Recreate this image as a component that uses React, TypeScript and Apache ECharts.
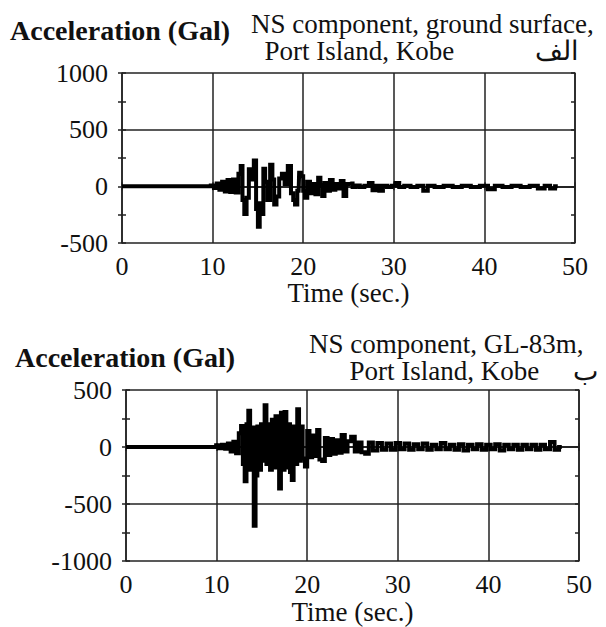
import React, { useEffect, useRef } from "react";
import * as echarts from "echarts";

// ---- Data ----
const xTicks = [0, 10, 20, 30, 40, 50];
const topYTicks = [1000, 500, 0, -500];
const bottomYTicks = [500, 0, -500, -1000];

// NS component, ground surface, Port Island, Kobe: time (s) / acceleration (Gal)
const surfaceTime = [
  0, 9.6, 10, 10.3, 10.6, 10.9, 11.2, 11.5, 11.8, 12.1, 12.4, 12.7, 13.0, 13.2, 13.4, 13.6, 13.9, 14.1, 14.4, 14.7,
  14.9, 15.1, 15.3, 15.5, 15.7, 15.9, 16.2, 16.5, 16.7, 16.9, 17.2, 17.5, 17.8, 18.1, 18.5, 18.8, 19.0, 19.2, 19.5,
  19.6, 19.9, 20.1, 20.3, 20.6, 20.9, 21.2, 21.5, 21.8, 22.0, 22.2, 22.5, 22.8, 23.1, 23.4, 23.7, 24.0, 24.3, 24.6,
  24.9, 25.3, 25.6, 26.0, 26.5, 27.0, 27.5, 27.8, 28.2, 28.6, 29.0, 29.5, 30.0, 30.4, 30.8, 31.5, 32.2, 33.0, 33.5,
  34.0, 35, 36, 37, 38, 39, 40, 40.8, 41.5, 42.5, 43.5, 44.5, 45.5, 46.3, 47, 47.5, 48.1,
];
const surfaceAcc = [
  0, 0, 8, -15, 25, -30, 40, -45, 55, -50, 60, -55, 110, 180, -120, -245, -100, 150, 60, 229,
  -200, -356, -150, -245, 156, 40, -120, 190, 60, -160, -90, 70, 110, 20, 180, -60, -120, -160, -40,
  120, 90, -40, -100, 40, -60, 20, -70, 76, 10, -85, 30, -40, 56, -30, 20, -20, 47, -85,
  20, 26, -5, 8, -5, 5, 30, -35, 5, -40, 5, -5, 5, 30, -5, 5, -5, 5, -40,
  5, -5, 5, -5, 5, -5, 5, -25, 5, -5, 5, -5, 5, -20, 5, -20, 0,
];

// NS component, GL-83m, Port Island, Kobe
const deepTime = [
  0, 9.8, 10.1, 10.4, 10.8, 11.1, 11.4, 11.7, 12.0, 12.3, 12.6, 12.8, 13.0, 13.2, 13.4, 13.6, 13.8, 14.0, 14.2, 14.4,
  14.6, 14.8, 15.0, 15.2, 15.4, 15.6, 15.8, 16.0, 16.2, 16.4, 16.6, 16.8, 17.0, 17.2, 17.4, 17.6, 17.8, 18.0, 18.2,
  18.4, 18.6, 18.8, 19.0, 19.2, 19.4, 19.6, 19.9, 20.1, 20.4, 20.7, 21.0, 21.2, 21.5, 21.8, 22.1, 22.4, 22.7, 23.0,
  23.3, 23.6, 24.0, 24.3, 24.6, 25.1, 25.4, 25.8, 26.2, 26.6, 27.0, 27.5, 28.0, 28.5, 29.0, 29.5, 30.0, 30.5, 31.0,
  31.5, 32, 32.5, 33, 33.5, 34, 34.5, 35, 35.5, 36, 36.5, 37, 37.5, 38, 38.5, 39, 39.5, 40, 40.5, 41, 41.5, 42,
  42.5, 43, 43.5, 44, 44.5, 45, 45.5, 46, 46.5, 47.1, 47.5, 48.1,
];
const deepAcc = [
  0, 0, 15, -10, 20, -15, 30, -40, 45, -55, 120, 185, -150, -300, 200, 317, -200, 170, -690, -250,
  180, -200, 200, -120, 367, -150, 200, -200, 240, -180, 270, -150, -365, 300, -200, 306, -180, 200, -220,
  -290, 180, -150, 332, -120, 180, -100, -170, 140, -90, 100, -80, 150, -110, -123, 80, -70, 70, -60,
  60, -50, 105, -40, 50, 90, -40, 40, -45, -60, 40, -30, 35, -25, 30, -25, 35, -20, 30,
  -25, 25, -20, 30, -25, 20, -20, 35, -20, 20, -25, 25, -30, 20, -20, 25, -25, 20, -20, 25, -30, 20,
  -20, 20, -25, 20, -20, 20, -25, 20, -20, 44, -25, 0,
];

const topTitle = ["NS component, ground surface,", "  Port Island, Kobe            الف"];
const bottomTitle = ["NS component, GL-83m,", "      Port Island, Kobe     ب"];
const yAxisTitle = "Acceleration (Gal)";
const xAxisTitle = "Time (sec.)";

const SERIF = "Liberation Serif";
const INK = "#111";
const LINE = "#222";

function pairs(t: number[], v: number[]) {
  return t.map((x, i) => [x, v[i]]);
}

export default function App() {
  const ref = useRef<HTMLDivElement>(null);

  useEffect(() => {
    if (!ref.current) return;
    const chart = echarts.init(ref.current, null, { renderer: "svg" });

    const grids = [
      { left: 122, top: 73, width: 453, height: 170 },
      { left: 126, top: 390, width: 453, height: 171 },
    ];
    const yRanges = [
      { min: topYTicks[topYTicks.length - 1], max: topYTicks[0] },
      { min: bottomYTicks[bottomYTicks.length - 1], max: bottomYTicks[0] },
    ];

    const xAxis: any[] = [];
    const yAxis: any[] = [];
    grids.forEach((_, g) => {
      xAxis.push({
        type: "value",
        gridIndex: g,
        min: xTicks[0],
        max: xTicks[xTicks.length - 1],
        interval: 10,
        position: "bottom",
        name: xAxisTitle,
        nameLocation: "middle",
        nameGap: g === 0 ? 33 : 37,
        nameTextStyle: { fontFamily: SERIF, fontSize: 27, color: INK },
        axisLine: { show: true, lineStyle: { color: LINE, width: 1.5 } },
        axisTick: { show: true, inside: false, length: 4, lineStyle: { color: LINE, width: 1.5 } },
        axisLabel: { show: true, margin: 10, fontFamily: SERIF, fontSize: 26, color: INK, formatter: (v: number) => String(v) },
        splitLine: { show: true, lineStyle: { color: LINE, width: 1.5 } },
      });
      xAxis.push({
        type: "value",
        gridIndex: g,
        min: xTicks[0],
        max: xTicks[xTicks.length - 1],
        interval: 10,
        position: "top",
        axisLine: { show: true, lineStyle: { color: LINE, width: 1.5 } },
        axisTick: { show: true, inside: false, length: 4, lineStyle: { color: LINE, width: 1.5 } },
        axisLabel: { show: false },
        splitLine: { show: false },
      });
      const r = yRanges[g];
      yAxis.push({
        type: "value",
        gridIndex: g,
        min: r.min,
        max: r.max,
        interval: 500,
        position: "left",
        axisLine: { show: true, lineStyle: { color: LINE, width: 1.5 } },
        axisTick: { show: true, inside: false, length: 4, lineStyle: { color: LINE, width: 1.5 } },
        minorTick: { show: true, splitNumber: 2, length: 4, lineStyle: { color: LINE, width: 1.5 } },
        axisLabel: { show: true, margin: 14, fontFamily: SERIF, fontSize: 26, color: INK, formatter: (v: number) => String(v) },
        splitLine: { show: true, lineStyle: { color: LINE, width: 1.5 } },
      });
      yAxis.push({
        type: "value",
        gridIndex: g,
        min: r.min,
        max: r.max,
        interval: 250,
        position: "left",
        axisLine: { show: false },
        axisTick: { show: true, inside: true, length: 4, lineStyle: { color: LINE, width: 1.5 } },
        axisLabel: { show: false },
        splitLine: { show: false },
      });
      yAxis.push({
        type: "value",
        gridIndex: g,
        min: r.min,
        max: r.max,
        interval: 250,
        position: "right",
        axisLine: { show: true, lineStyle: { color: LINE, width: 1.5 } },
        axisTick: { show: true, inside: true, length: 4, lineStyle: { color: LINE, width: 1.5 } },
        axisLabel: { show: false },
        splitLine: { show: false },
      });
    });

    const seriesBase = {
      type: "line",
      step: "middle",
      showSymbol: false,
      symbol: "none",
      silent: true,
      lineStyle: { color: "#000", width: 4, join: "miter" },
    };

    chart.setOption({
      animation: false,
      textStyle: { fontFamily: SERIF },
      grid: grids.map((g) => ({ ...g, containLabel: false })),
      xAxis,
      yAxis,
      series: [
        { ...seriesBase, xAxisIndex: 0, yAxisIndex: 0, data: pairs(surfaceTime, surfaceAcc) },
        { ...seriesBase, xAxisIndex: 2, yAxisIndex: 3, data: pairs(deepTime, deepAcc) },
      ],
      graphic: [
        { type: "text", x: 10, y: 16, style: { text: yAxisTitle, fontFamily: SERIF, fontSize: 28, fontWeight: "bold", fill: INK } },
        { type: "text", x: 251, y: 10, style: { text: topTitle.join("\n"), fontFamily: SERIF, fontSize: 27, lineHeight: 27.5, fill: INK } },
        { type: "text", x: 15, y: 343, style: { text: yAxisTitle, fontFamily: SERIF, fontSize: 28, fontWeight: "bold", fill: INK } },
        { type: "text", x: 309, y: 330, style: { text: bottomTitle.join("\n"), fontFamily: SERIF, fontSize: 27, lineHeight: 27.5, fill: INK } },
      ],
    });

    return () => chart.dispose();
  }, []);

  return (
    <>
      <style>{`#root svg text, #root svg tspan { font-family: "Liberation Serif", "Times New Roman", serif !important; }`}</style>
      <div ref={ref} style={{ position: "absolute", left: 0, top: 0, width: 606, height: 627 }} />
    </>
  );
}
